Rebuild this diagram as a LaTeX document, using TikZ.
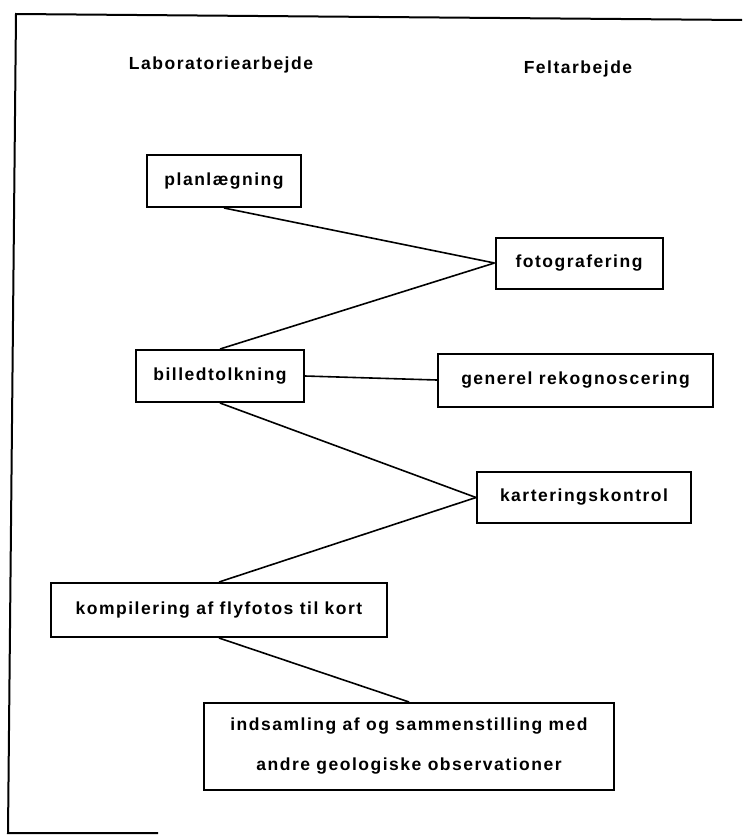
\documentclass[tikz,border=0pt]{standalone}
\usepackage{fontspec}
\setmainfont{Liberation Sans}[LetterSpace=8.6]
\usepackage{tikz}

\begin{document}
\begin{tikzpicture}[x=1pt, y=-1pt,
  boks/.style={draw, line width=2pt, inner sep=0pt, align=center,
    font=\bfseries\fontsize{17.5}{40}\selectfont},
  rubrik/.style={anchor=base, font=\bfseries\fontsize{17.5}{21}\selectfont},
  forbind/.style={line width=1.6pt}]
\useasboundingbox (0,0) rectangle (742,835);
% Ramme
\draw[line width=2pt] (742,20) -- (16,14) -- (8,833) -- (158,833);

% Overskrifter
\node[rubrik] (lab) at (221,69) {Laboratoriearbejde};
\node[rubrik] (felt) at (578,73) {Feltarbejde};

% Laboratoriearbejde
\node[boks, minimum width=154pt, minimum height=52pt] (plan) at (224,181) {planlægning};
\node[boks, minimum width=168pt, minimum height=52pt] (billed) at (220,376) {billedtolkning};
\node[boks, minimum width=336pt, minimum height=54pt] (kompil) at (219,610) {kompilering af flyfotos til kort};
\node[boks, minimum width=410pt, minimum height=87pt] (indsam) at (409,746.5) {indsamling af og sammenstilling med\\andre geologiske observationer};

% Feltarbejde
\node[boks, minimum width=167pt, minimum height=51pt] (foto) at (579,263) {fotografering};
\node[boks, minimum width=275pt, minimum height=53pt] (generel) at (575.5,380) {generel rekognoscering};
\node[boks, minimum width=214pt, minimum height=51pt] (karter) at (584,497.5) {karteringskontrol};

% Forbindelser
\draw[forbind] (plan.south) -- (foto.west);
\draw[forbind] (billed.north) -- (foto.west);
\draw[forbind] (billed.east) -- (generel.west);
\draw[forbind] (billed.south) -- (karter.west);
\draw[forbind] (kompil.north) -- (karter.west);
\draw[forbind] (kompil.south) -- (indsam.north);
\end{tikzpicture}
\end{document}
